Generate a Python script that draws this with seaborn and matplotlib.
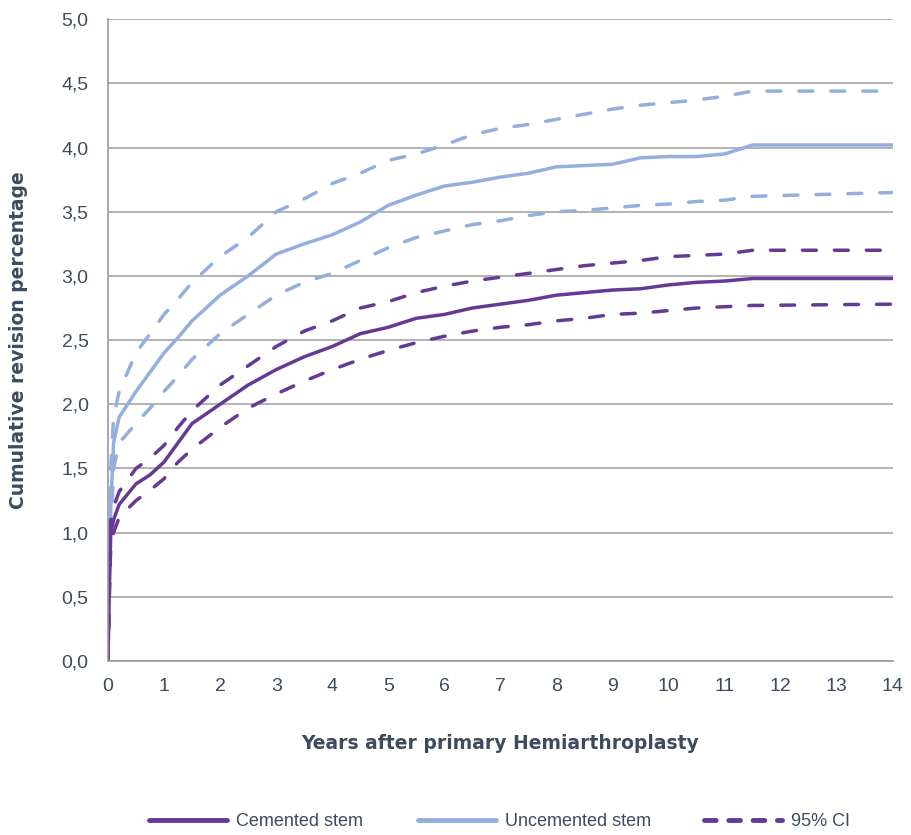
import numpy as np
import pandas as pd
import matplotlib
matplotlib.use("Agg")
import matplotlib.pyplot as plt
from matplotlib.lines import Line2D
import seaborn as sns

# years after primary operation
years = [0, 0.02, 0.05, 0.1, 0.2, 0.5, 0.75, 1, 1.25, 1.5, 2, 2.5, 3, 3.5, 4, 4.5,
         5, 5.5, 6, 6.5, 7, 7.5, 8, 8.5, 9, 9.5, 10, 10.5, 11, 11.5, 14]

cemented = [0, 0.5, 1.0, 1.1, 1.22, 1.38, 1.45, 1.55, 1.7, 1.85, 2.0, 2.15, 2.27, 2.37, 2.45, 2.55,
            2.6, 2.67, 2.7, 2.75, 2.78, 2.81, 2.85, 2.87, 2.89, 2.9, 2.93, 2.95, 2.96, 2.98, 2.98]
cemented_hi = [0, 0.55, 1.1, 1.2, 1.32, 1.5, 1.58, 1.68, 1.82, 1.95, 2.15, 2.3, 2.45, 2.57, 2.65, 2.75,
               2.8, 2.87, 2.92, 2.96, 2.99, 3.02, 3.05, 3.08, 3.1, 3.12, 3.15, 3.16, 3.17, 3.2, 3.2]
cemented_lo = [0, 0.45, 0.9, 1.0, 1.12, 1.25, 1.33, 1.42, 1.55, 1.65, 1.82, 1.97, 2.08, 2.18, 2.27, 2.35,
               2.42, 2.48, 2.53, 2.57, 2.6, 2.62, 2.65, 2.67, 2.7, 2.71, 2.73, 2.75, 2.76, 2.77, 2.78]

uncemented = [0, 0.5, 1.2, 1.7, 1.9, 2.1, 2.25, 2.4, 2.52, 2.65, 2.85, 3.0, 3.17, 3.25, 3.32, 3.42,
              3.55, 3.63, 3.7, 3.73, 3.77, 3.8, 3.85, 3.86, 3.87, 3.92, 3.93, 3.93, 3.95, 4.02, 4.02]
uncemented_hi = [0, 0.6, 1.5, 1.9, 2.1, 2.4, 2.55, 2.7, 2.82, 2.95, 3.15, 3.3, 3.5, 3.6, 3.72, 3.8,
                 3.9, 3.95, 4.02, 4.1, 4.15, 4.18, 4.22, 4.26, 4.3, 4.33, 4.35, 4.37, 4.4, 4.44, 4.44]
uncemented_lo = [0, 0.4, 1.0, 1.5, 1.7, 1.85, 1.97, 2.1, 2.22, 2.35, 2.55, 2.7, 2.85, 2.95, 3.02, 3.12,
                 3.22, 3.3, 3.35, 3.4, 3.43, 3.47, 3.5, 3.51, 3.53, 3.55, 3.56, 3.58, 3.59, 3.62, 3.65]

legend_labels = ["Cemented stem", "Uncemented stem", "95% CI"]

purple = "#663a94"
blue = "#92afdd"
text_col = "#3e4b5e"

sns.set_style("white")
plt.rcParams["font.family"] = ["Liberation Sans", "DejaVu Sans"]

fig = plt.figure(figsize=(9.12, 8.35), dpi=100)
ax = fig.add_axes([0.1184, 0.2084, 0.979 - 0.1184, 0.977 - 0.2084])

dash = (4, 5.2)
series = [
    (uncemented_hi, blue, True),
    (uncemented_lo, blue, True),
    (uncemented, blue, False),
    (cemented_hi, purple, True),
    (cemented_lo, purple, True),
    (cemented, purple, False),
]
for vals, col, dashed in series:
    sns.lineplot(x=years, y=vals, ax=ax, color=col, lw=2.5)
    if dashed:
        ax.lines[-1].set_dashes(dash)
        ax.lines[-1].set_dash_capstyle("round")

ax.set_xlim(0, 14)
ax.set_ylim(0, 5)
ax.set_xticks(range(0, 15))
yt = np.arange(0, 5.01, 0.5)
ax.set_yticks(yt)
ax.set_yticklabels([f"{v:.1f}".replace(".", ",") for v in yt])
ax.yaxis.grid(True, color="#a6a6a6", lw=1.2)
ax.xaxis.grid(False)
for s in ["top", "right"]:
    ax.spines[s].set_visible(False)
for s in ["left", "bottom"]:
    ax.spines[s].set_color("#9a9a9a")
    ax.spines[s].set_linewidth(1.2)
ax.tick_params(axis="x", length=5, width=1.2, color="#9a9a9a", labelsize=14, labelcolor=text_col, pad=7)
ax.tick_params(axis="y", length=0, labelsize=14, labelcolor=text_col, pad=14)

ax.set_xlabel("Years after primary Hemiarthroplasty", fontsize=13.5, fontweight="bold",
              color=text_col, family="DejaVu Sans", labelpad=28)
ax.set_ylabel("Cumulative revision percentage", fontsize=13.5, fontweight="bold",
              color=text_col, family="DejaVu Sans", labelpad=24)

handles = [
    Line2D([], [], color=purple, lw=3.5, solid_capstyle="round"),
    Line2D([], [], color=blue, lw=3.5, solid_capstyle="round"),
    Line2D([], [], color=purple, lw=3.5, dashes=(2.4, 2.6), dash_capstyle="round"),
]
starts = [149, 418, 704]
for h, lab, x0 in zip(handles, legend_labels, starts):
    leg = fig.legend([h], [lab], loc="center left", bbox_to_anchor=(x0 / 912, 1 - 822 / 835),
                     frameon=False, fontsize=13, handlelength=4.3, handletextpad=0.5,
                     borderpad=0, borderaxespad=0)
    for t in leg.get_texts():
        t.set_color(text_col)

fig.savefig("out.png", dpi=100)
